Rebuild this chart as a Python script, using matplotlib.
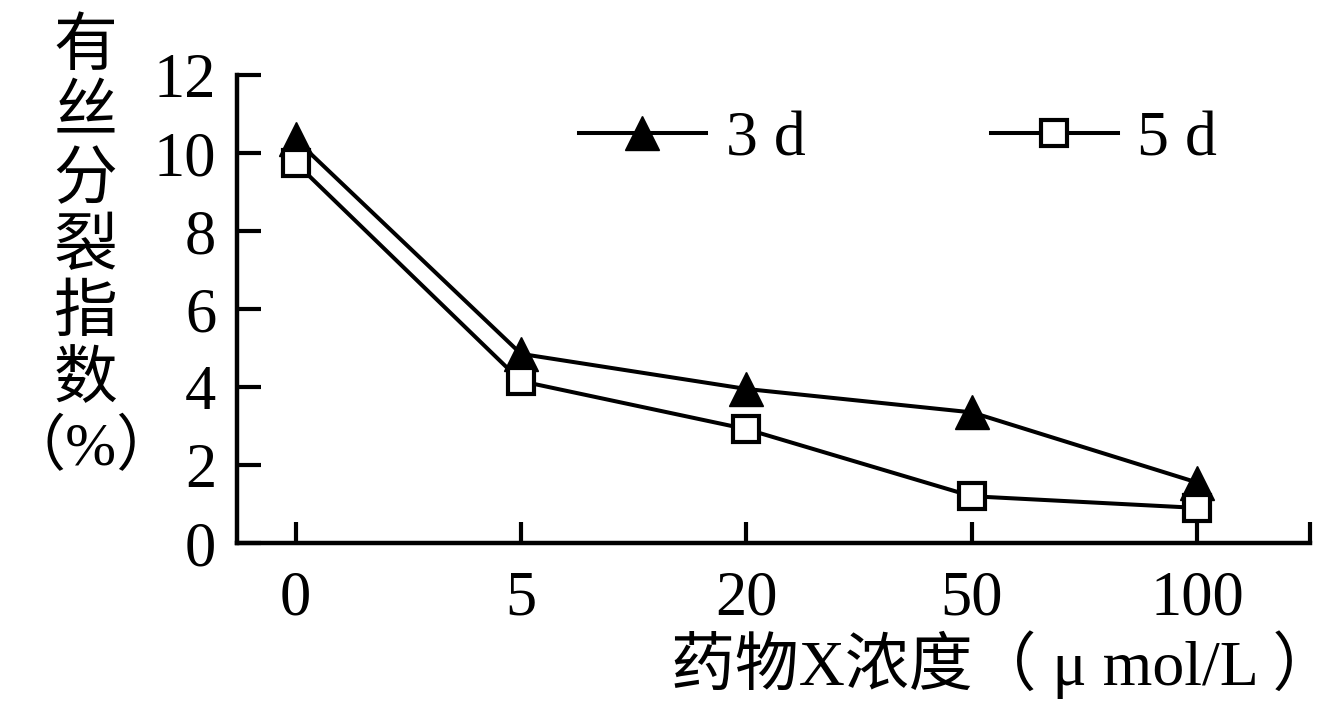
import numpy as np
import matplotlib.pyplot as plt

conc_labels = ['0', '5', '20', '50', '100']
mi_3d = [10.35, 4.85, 3.95, 3.35, 1.55]
mi_5d = [9.75, 4.15, 2.92, 1.2, 0.9]
y_ticks = [0, 2, 4, 6, 8, 10, 12]
ylabel_chars = ['有', '丝', '分', '裂', '指', '数', '（%）']

fam = ['Liberation Serif', 'Noto Sans CJK SC']
plt.rcParams['font.family'] = fam
plt.rcParams['axes.linewidth'] = 3.2

fig = plt.figure(figsize=(13.35, 7.18), dpi=100)
ax = fig.add_axes([0.1775, 0.2437, 0.8038, 0.6518])

x = np.arange(len(conc_labels))
ax.plot(x, mi_3d, color='black', lw=2.9, marker='^', ms=24, mfc='black', mec='black', label='3 d')
ax.plot(x, mi_5d, color='black', lw=2.9, marker='s', ms=19, mfc='white', mec='black', mew=3, label='5 d')

ax.set_xlim(-0.26, 4.5)
ax.set_ylim(0, 12)
ax.set_xticks(list(x) + [4.5])
ax.set_xticklabels(conc_labels + [''])
ax.set_yticks(y_ticks)
ax.tick_params(axis='x', direction='in', length=15, width=3, pad=20, labelsize=45)
ax.tick_params(axis='y', direction='in', length=17, width=3, pad=15, labelsize=45)
for s in ['top', 'right']:
    ax.spines[s].set_visible(False)

ax.legend(loc='center', bbox_to_anchor=(0.616, 0.861), ncol=2, frameon=False,
          fontsize=46, handlelength=2.0, handletextpad=0.3, columnspacing=2.9)

# vertical stacked y label
for i, ch in enumerate(ylabel_chars[:-1]):
    fig.text(0.064, 1 - (50 + 66.5 * i) / 718, ch, fontsize=46, ha='center', va='center')
fig.text(0.068, 1 - (50 + 66.5 * 6) / 718, ylabel_chars[-1], fontsize=44, ha='center', va='center')

fig.text(0.752, 0.074, '药物X浓度（ μ mol/L ）', fontsize=46, ha='center', va='center')

fig.savefig('out.png', dpi=100)
